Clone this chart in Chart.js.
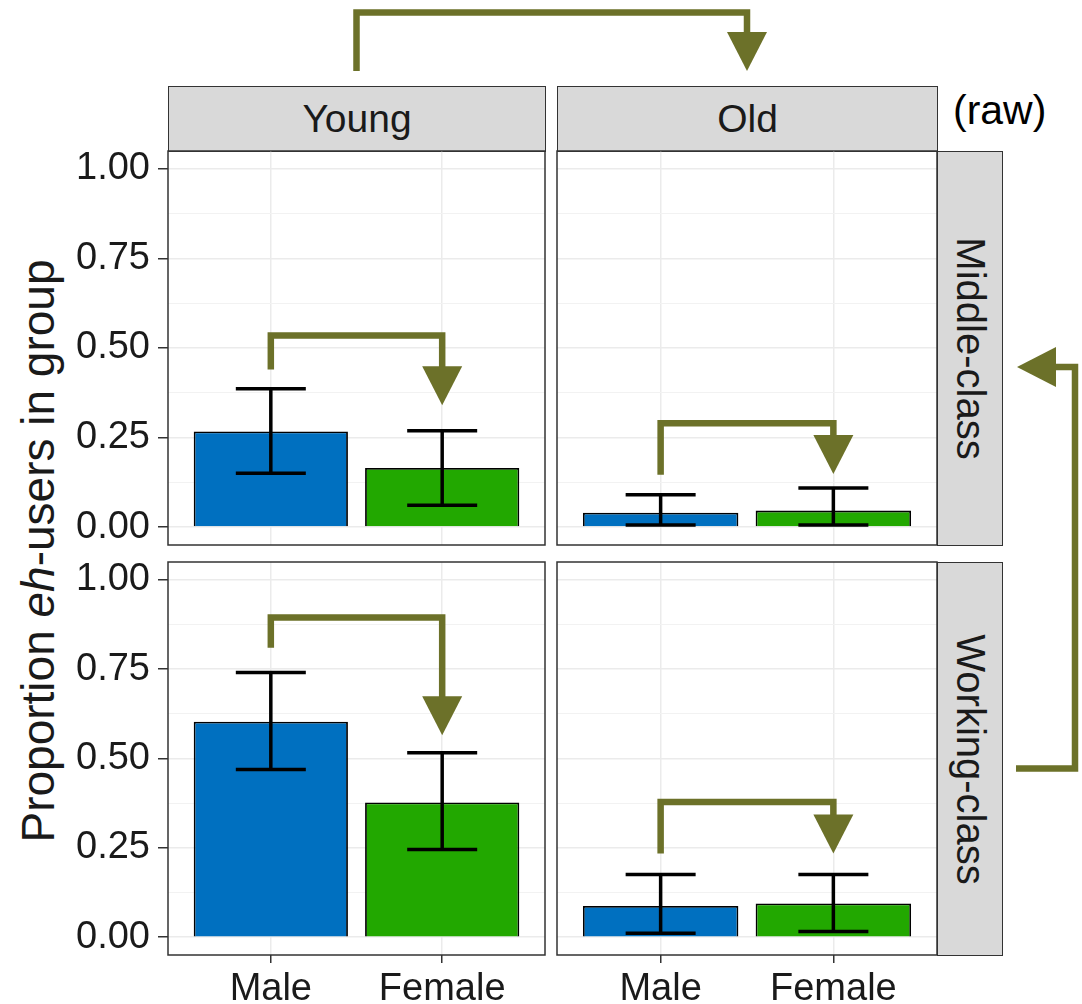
<!DOCTYPE html>
<html>
<head>
<meta charset="utf-8">
<script src="https://cdn.jsdelivr.net/npm/chart.js@4.4.1/dist/chart.umd.min.js"></script>
<style>
  body { margin: 0; background: #fff; font-family: "Liberation Sans", Arial, sans-serif; }
  #page { position: relative; width: 1082px; height: 1004px; overflow: hidden; }
  canvas.panel { position: absolute; }
  .strip { position: absolute; box-sizing: border-box; background: #d9d9d9; border: 1.5px solid #333;
           color: #1a1a1a; font-size: 39px; display: flex; align-items: center; justify-content: center; }
  .strip.side { font-size: 40px; }
  .strip.side span { transform: rotate(90deg); white-space: nowrap; }
  #ytitle { position: absolute; left: 38px; top: 551px; transform: translate(-50%, -50%) rotate(-90deg);
            font-size: 46px; color: #1a1a1a; white-space: nowrap; }
  #raw { position: absolute; left: 953px; top: 87px; font-size: 41px; color: #000; }
  #overlay { position: absolute; left: 0; top: 0; pointer-events: none; }
</style>
</head>
<body>
<div id="page">
  <div class="strip" style="left:168px;top:86px;width:378px;height:66px;">Young</div>
  <div class="strip" style="left:557px;top:86px;width:381px;height:66px;">Old</div>
  <div class="strip side" style="left:937px;top:151px;width:66px;height:395px;"><span>Middle-class</span></div>
  <div class="strip side" style="left:937px;top:562px;width:66px;height:394px;"><span>Working-class</span></div>
  <div id="raw">(raw)</div>
  <div id="ytitle">Proportion <i>eh</i>-users in group</div>

  <canvas class="panel" id="tl" width="547" height="398" style="left:0;top:149px;"></canvas>
  <canvas class="panel" id="tr" width="384" height="398" style="left:555px;top:149px;"></canvas>
  <canvas class="panel" id="bl" width="547" height="444" style="left:0;top:560px;"></canvas>
  <canvas class="panel" id="br" width="384" height="444" style="left:555px;top:560px;"></canvas>
  <canvas id="overlay" width="1082" height="1004"></canvas>
</div>

<script>
const sexes = ['Male', 'Female'];
const barColors = ['#0070C0', '#22A800'];
const yTicks = [0, 0.125, 0.25, 0.375, 0.5, 0.625, 0.75, 0.875, 1];

// proportion of eh-users, [Male, Female], with error bar bounds
const middleYoung = [0.267, 0.165];
const middleYoungLo = [0.150, 0.061];
const middleYoungHi = [0.386, 0.269];

const middleOld = [0.040, 0.046];
const middleOldLo = [0.006, 0.006];
const middleOldHi = [0.090, 0.109];

const workingYoung = [0.603, 0.377];
const workingYoungLo = [0.469, 0.245];
const workingYoungHi = [0.741, 0.516];

const workingOld = [0.087, 0.094];
const workingOldLo = [0.011, 0.016];
const workingOldHi = [0.175, 0.175];

// bracket arrows inside panels: [start, top, tip] on the y scale
const middleYoungArrow = [0.44, 0.535, 0.34];
const middleOldArrow = [0.146, 0.29, 0.148];
const workingYoungArrow = [0.81, 0.895, 0.565];
const workingOldArrow = [0.234, 0.378, 0.234];

const OLIVE = '#6C7129';
const GRID = '#EBEBEB';
const TEXT = '#1a1a1a';
const FONT = { family: 'Liberation Sans', size: 38 };
const CAP = 35;
const HEAD_W = 40;
const HEAD_L = 39;

function drawArrow(ctx, pts) {
  const n = pts.length;
  const [tx, ty] = pts[n - 1];
  const [px, py] = pts[n - 2];
  const len = Math.hypot(tx - px, ty - py);
  const dx = (tx - px) / len;
  const dy = (ty - py) / len;
  const bx = tx - dx * HEAD_L;
  const by = ty - dy * HEAD_L;

  ctx.save();
  ctx.strokeStyle = OLIVE;
  ctx.fillStyle = OLIVE;
  ctx.lineWidth = 6.5;
  ctx.lineJoin = 'miter';
  ctx.lineCap = 'butt';
  ctx.beginPath();
  ctx.moveTo(pts[0][0], pts[0][1]);
  for (let i = 1; i < n - 1; i++) {
    ctx.lineTo(pts[i][0], pts[i][1]);
  }
  ctx.lineTo(bx + dx * 2, by + dy * 2);
  ctx.stroke();

  ctx.beginPath();
  ctx.moveTo(tx, ty);
  ctx.lineTo(bx - dy * HEAD_W / 2, by + dx * HEAD_W / 2);
  ctx.lineTo(bx + dy * HEAD_W / 2, by - dx * HEAD_W / 2);
  ctx.closePath();
  ctx.fill();
  ctx.restore();
}

function panelExtras(lo, hi, arrow) {
  return {
    id: 'panelExtras',
    afterDatasetsDraw(chart) {
      const { ctx, scales: { x, y } } = chart;
      ctx.save();
      ctx.strokeStyle = '#000';
      ctx.lineWidth = 3.5;
      lo.forEach((low, i) => {
        const px = x.getPixelForValue(i + 1);
        const y0 = y.getPixelForValue(low);
        const y1 = y.getPixelForValue(hi[i]);
        ctx.beginPath();
        ctx.moveTo(px, y0);
        ctx.lineTo(px, y1);
        ctx.moveTo(px - CAP, y0);
        ctx.lineTo(px + CAP, y0);
        ctx.moveTo(px - CAP, y1);
        ctx.lineTo(px + CAP, y1);
        ctx.stroke();
      });
      ctx.restore();

      const [start, top, tip] = arrow;
      const xa = x.getPixelForValue(1);
      const xb = x.getPixelForValue(2);
      drawArrow(ctx, [
        [xa, y.getPixelForValue(start)],
        [xa, y.getPixelForValue(top)],
        [xb, y.getPixelForValue(top)],
        [xb, y.getPixelForValue(tip)],
      ]);
    },
    afterDraw(chart) {
      const { ctx, chartArea: a } = chart;
      ctx.save();
      ctx.strokeStyle = '#333';
      ctx.lineWidth = 1.5;
      ctx.strokeRect(a.left, a.top, a.right - a.left, a.bottom - a.top);
      ctx.restore();
    },
  };
}

function makePanel(id, values, lo, hi, arrow, showY, showX) {
  return new Chart(document.getElementById(id), {
    type: 'bar',
    data: {
      datasets: [{
        data: values.map((v, i) => ({ x: i + 1, y: v })),
        backgroundColor: barColors,
        borderColor: '#000',
        borderWidth: 1.8,
        barPercentage: 0.9,
        categoryPercentage: 1,
      }],
    },
    options: {
      responsive: false,
      animation: false,
      events: [],
      layout: { padding: { top: 2, right: 2, bottom: showX ? 0 : 2, left: showY ? 0 : 2 } },
      plugins: { legend: { display: false }, tooltip: { enabled: false } },
      scales: {
        x: {
          type: 'linear',
          min: 0.4,
          max: 2.6,
          offset: false,
          afterBuildTicks: (s) => { s.ticks = sexes.map((_, i) => ({ value: i + 1 })); },
          afterFit: (s) => { s.height = showX ? 49 : 0; s.paddingLeft = 0; s.paddingRight = 0; },
          grid: { offset: false, color: GRID, lineWidth: 1.5, drawTicks: showX, tickLength: 8, tickColor: '#333', tickWidth: 1.5 },
          border: { display: false },
          ticks: {
            display: showX,
            autoSkip: false,
            maxRotation: 0,
            padding: 4,
            font: FONT,
            color: TEXT,
            callback: (v) => sexes[v - 1],
          },
        },
        y: {
          min: -0.05,
          max: 1.05,
          afterBuildTicks: (s) => { s.ticks = yTicks.map((v) => ({ value: v })); },
          afterFit: (s) => { s.width = showY ? 168 : 0; s.paddingTop = 0; s.paddingBottom = 0; },
          grid: {
            color: (c) => (c.index % 2 === 0 ? GRID : '#F2F2F2'),
            lineWidth: (c) => (c.index % 2 === 0 ? 1.5 : 1),
            drawTicks: showY,
            tickLength: 10,
            tickWidth: 1.5,
            tickColor: (c) => (c.index % 2 === 0 ? '#333' : 'rgba(0,0,0,0)'),
          },
          border: { display: false },
          ticks: {
            display: showY,
            autoSkip: false,
            padding: 8,
            font: FONT,
            color: TEXT,
            callback: (v, i) => (i % 2 === 0 ? v.toFixed(2) : ''),
          },
        },
      },
    },
    plugins: [panelExtras(lo, hi, arrow)],
  });
}

const charts = {
  tl: makePanel('tl', middleYoung, middleYoungLo, middleYoungHi, middleYoungArrow, true, false),
  tr: makePanel('tr', middleOld, middleOldLo, middleOldHi, middleOldArrow, false, false),
  bl: makePanel('bl', workingYoung, workingYoungLo, workingYoungHi, workingYoungArrow, true, true),
  br: makePanel('br', workingOld, workingOldLo, workingOldHi, workingOldArrow, false, true),
};

// outer arrows: Young -> Old across the top, Working -> Middle down the right side
function drawOuterArrows() {
  const ctx = document.getElementById('overlay').getContext('2d');
  const offset = (id) => {
    const el = document.getElementById(id);
    return { x: el.offsetLeft, y: el.offsetTop };
  };
  const tlOff = offset('tl');
  const trOff = offset('tr');
  const brOff = offset('br');
  const tl = charts.tl.chartArea;
  const tr = charts.tr.chartArea;
  const youngMid = tlOff.x + (tl.left + tl.right) / 2;
  const oldMid = trOff.x + (tr.left + tr.right) / 2;
  drawArrow(ctx, [[youngMid, 71], [youngMid, 12.5], [oldMid, 12.5], [oldMid, 71]]);

  const railX = 1075;
  const fromY = brOff.y + charts.br.scales.y.getPixelForValue(0.472);
  const toY = trOff.y + charts.tr.scales.y.getPixelForValue(0.447);
  drawArrow(ctx, [[1016, fromY], [railX, fromY], [railX, toY], [1017, toY]]);
}

drawOuterArrows();
</script>
</body>
</html>
